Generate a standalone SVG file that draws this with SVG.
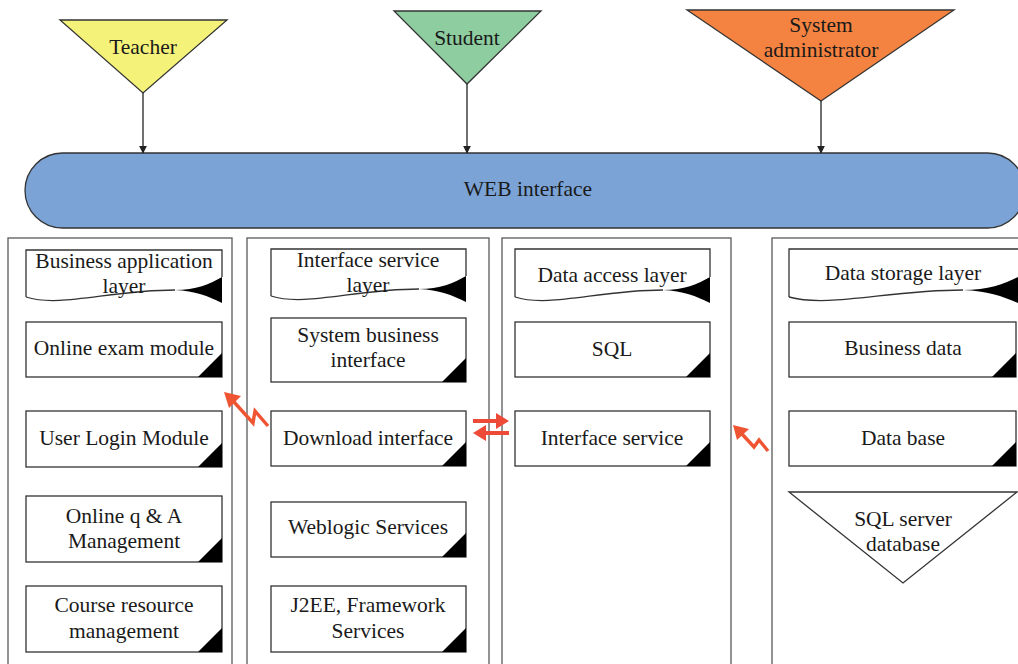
<svg xmlns="http://www.w3.org/2000/svg" width="1018" height="664" viewBox="0 0 1018 664">
  <style>
    text { font-family: "Liberation Serif", "DejaVu Serif", serif; font-size: 21.5px; fill: #1a1a1a; text-anchor: middle; }
    .col { fill: #ffffff; stroke: #5a5a5a; stroke-width: 1.3; }
    .box { fill: #ffffff; stroke: #333333; stroke-width: 1.3; }
    .ink { fill: #000000; stroke: none; }
    .edge { fill: none; stroke: #333333; stroke-width: 1.3; }
    .actor { stroke: #333333; stroke-width: 1.3; }
    .conn { fill: none; stroke: #222222; stroke-width: 1.3; }
    .red { fill: none; stroke: #EF5533; stroke-width: 3.4; stroke-linejoin: miter; }
    .red2 { fill: none; stroke: #EE4A38; stroke-width: 4; }
    .redhead { fill: #EF5533; stroke: none; }
    .redhead2 { fill: #EE4A38; stroke: none; }
  </style>
  <defs>
    <marker id="arr" viewBox="0 0 10 10" refX="9" refY="5" markerWidth="8" markerHeight="8" markerUnits="userSpaceOnUse" orient="auto">
      <path d="M0,0 L10,5 L0,10 Z" fill="#222222"/>
    </marker>
  </defs>

  <!-- layer columns -->
  <g id="columns">
    <rect class="col" x="8" y="238" width="224" height="440"/>
    <rect class="col" x="247" y="238" width="242" height="440"/>
    <rect class="col" x="502" y="238" width="229" height="440"/>
    <rect class="col" x="772" y="238" width="300" height="440"/>
  </g>

  <!-- actors -->
  <g id="teacher">
    <polygon class="actor" points="60,20 227,20 143,93" fill="#F5F27A"/>
    <text x="143" y="54">Teacher</text>
  </g>
  <g id="student">
    <polygon class="actor" points="394,11 541,11 467,84" fill="#8DCDA0"/>
    <text x="467" y="45">Student</text>
  </g>
  <g id="admin">
    <polygon class="actor" points="687,10 954,10 821,101" fill="#F48240"/>
    <text x="821" y="32">System</text>
    <text x="821" y="57">administrator</text>
  </g>

  <!-- web interface bar -->
  <g id="web">
    <rect x="25" y="153" width="1000" height="75" rx="37.5" ry="37.5" fill="#7BA3D6" stroke="#333333" stroke-width="1.3"/>
    <text x="528" y="196">WEB interface</text>
  </g>

  <!-- column 1: business application layer -->
  <g id="bal">
    <path class="edge" d="M26,297 V250 H222 V277" fill="#fff"/>
    <path class="edge" d="M26,297 C60,308 110,290 175,290"/>
    <path class="ink" d="M175,290 C196,290 210,284 222,277 V303 C208,296 195,291 175,290 Z"/>
    <text x="124" y="268">Business application</text>
    <text x="124" y="293">layer</text>
  </g>
  <g id="exam">
    <rect class="box" x="26" y="322" width="196" height="55"/>
    <path class="ink" d="M198,377 H222 V353 Z"/>
    <text x="124" y="355">Online exam module</text>
  </g>
  <g id="login">
    <rect class="box" x="26" y="411" width="196" height="56"/>
    <path class="ink" d="M198,467 H222 V443 Z"/>
    <text x="124" y="445">User Login Module</text>
  </g>
  <g id="qa">
    <rect class="box" x="26" y="496" width="196" height="66"/>
    <path class="ink" d="M198,562 H222 V538 Z"/>
    <text x="124" y="523">Online q &amp; A</text>
    <text x="124" y="548">Management</text>
  </g>
  <g id="course">
    <rect class="box" x="26" y="586" width="196" height="66"/>
    <path class="ink" d="M198,652 H222 V628 Z"/>
    <text x="124" y="612">Course resource</text>
    <text x="124" y="638">management</text>
  </g>

  <!-- column 2: interface service layer -->
  <g id="isl">
    <path class="edge" d="M271,296 V249 H466 V276"/>
    <path class="edge" d="M271,296 C305,307 355,289 419,289"/>
    <path class="ink" d="M419,289 C440,289 454,283 466,276 V302 C452,295 439,290 419,289 Z"/>
    <text x="368" y="267">Interface service</text>
    <text x="368" y="292">layer</text>
  </g>
  <g id="sbi">
    <rect class="box" x="271" y="318" width="195" height="64"/>
    <path class="ink" d="M442,382 H466 V358 Z"/>
    <text x="368" y="342">System business</text>
    <text x="368" y="367">interface</text>
  </g>
  <g id="download">
    <rect class="box" x="271" y="411" width="195" height="55"/>
    <path class="ink" d="M442,466 H466 V442 Z"/>
    <text x="368" y="445">Download interface</text>
  </g>
  <g id="weblogic">
    <rect class="box" x="271" y="502" width="195" height="55"/>
    <path class="ink" d="M442,557 H466 V533 Z"/>
    <text x="368" y="534">Weblogic Services</text>
  </g>
  <g id="j2ee">
    <rect class="box" x="271" y="586" width="195" height="66"/>
    <path class="ink" d="M442,652 H466 V628 Z"/>
    <text x="368" y="612">J2EE, Framework</text>
    <text x="368" y="638">Services</text>
  </g>

  <!-- column 3: data access layer -->
  <g id="dal">
    <path class="edge" d="M515,297 V249 H710 V277"/>
    <path class="edge" d="M515,297 C549,308 599,290 663,290"/>
    <path class="ink" d="M663,290 C684,290 698,284 710,277 V303 C696,296 683,291 663,290 Z"/>
    <text x="612" y="282">Data access layer</text>
  </g>
  <g id="sql">
    <rect class="box" x="515" y="322" width="195" height="55"/>
    <path class="ink" d="M686,377 H710 V353 Z"/>
    <text x="612" y="356">SQL</text>
  </g>
  <g id="ifservice">
    <rect class="box" x="515" y="411" width="195" height="55"/>
    <path class="ink" d="M686,466 H710 V442 Z"/>
    <text x="612" y="445">Interface service</text>
  </g>

  <!-- column 4: data storage layer -->
  <g id="dsl">
    <path class="edge" d="M789,297 V249 H1018"/>
    <path class="edge" d="M789,297 C829,308 888,290 963,290"/>
    <path class="ink" d="M963,290 C988,290 1004,284 1018,277 V303 C1002,296 987,291 963,290 Z"/>
    <text x="903" y="280">Data storage layer</text>
  </g>
  <g id="bizdata">
    <rect class="box" x="789" y="322" width="227" height="55"/>
    <path class="ink" d="M992,377 H1016 V353 Z"/>
    <text x="903" y="355">Business data</text>
  </g>
  <g id="database">
    <rect class="box" x="789" y="411" width="227" height="55"/>
    <path class="ink" d="M992,466 H1016 V442 Z"/>
    <text x="903" y="445">Data base</text>
  </g>
  <g id="sqlserver">
    <polygon class="box" points="789,492 1017,492 903,583"/>
    <text x="903" y="526">SQL server</text>
    <text x="903" y="551">database</text>
  </g>

  <!-- connectors -->
  <g id="connectors">
    <line class="conn" x1="143" y1="93" x2="143" y2="153" marker-end="url(#arr)"/>
    <line class="conn" x1="467" y1="84" x2="467" y2="153" marker-end="url(#arr)"/>
    <line class="conn" x1="821" y1="101" x2="821" y2="153" marker-end="url(#arr)"/>

    <!-- lightning link: download interface to business layer -->
    <polyline class="red" points="268,426 255,411 253,423 234,402"/>
    <path class="redhead" d="M224,392 L241,396 L229,408 Z"/>

    <!-- lightning link: data storage to data access -->
    <polyline class="red" points="768,451 759,440 754,447 742,434"/>
    <path class="redhead" d="M733,425 L749,429 L737,440 Z"/>

    <!-- two-way link: download interface and interface service -->
    <line class="red2" x1="473" y1="421" x2="497" y2="421"/>
    <path class="redhead2" d="M509,421 L496,413 L496,429 Z"/>
    <line class="red2" x1="485" y1="433" x2="509" y2="433"/>
    <path class="redhead2" d="M473,433 L486,425 L486,441 Z"/>
  </g>
</svg>
